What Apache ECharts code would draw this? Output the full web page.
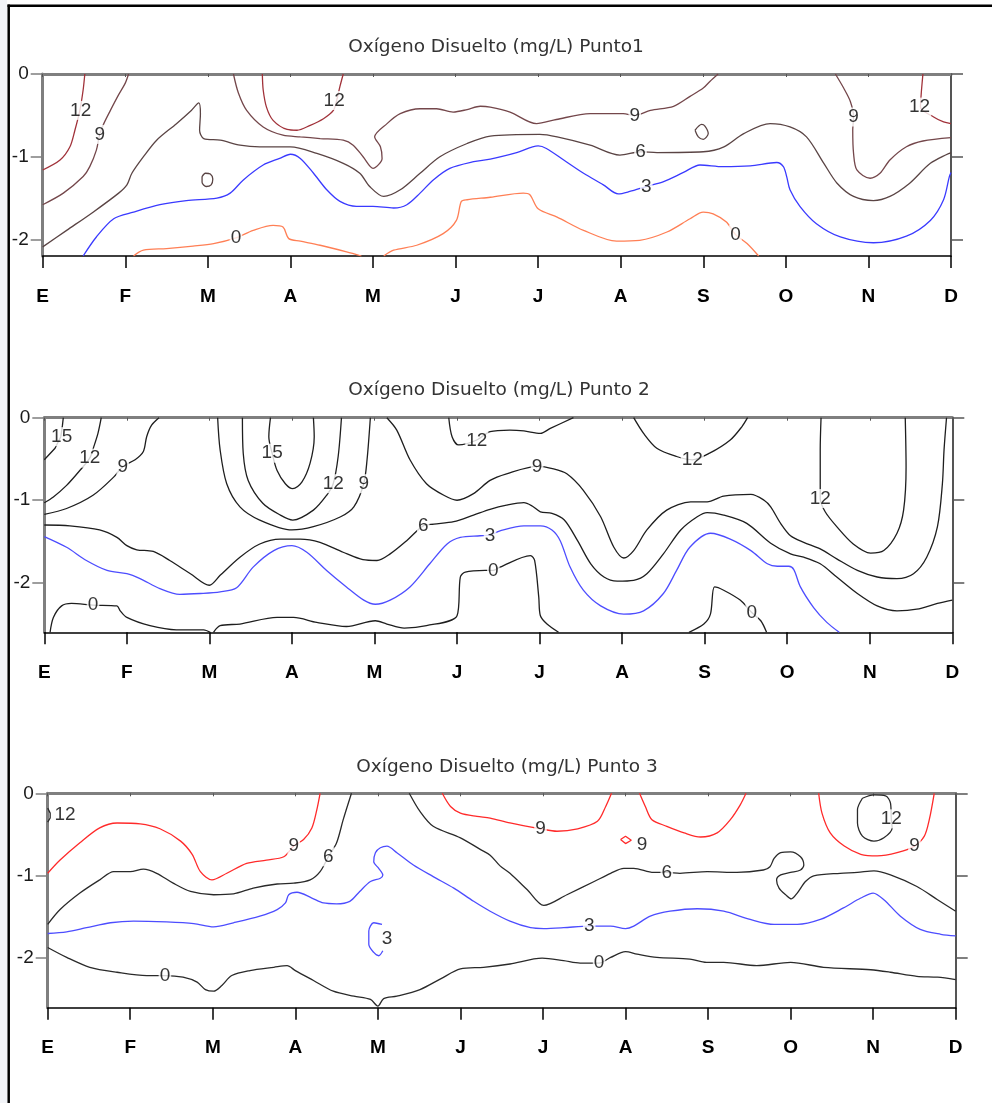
<!DOCTYPE html>
<html><head><meta charset="utf-8">
<script src="https://cdn.jsdelivr.net/npm/echarts@6/dist/echarts.min.js"></script>
<style>html,body{margin:0;padding:0;background:#fff}#c{width:992px;height:1103px}</style>
</head><body><div id="c"></div>
<script>
// ---------- data ----------
const MONTHS = ['E','F','M','A','M','J','J','A','S','O','N','D'];
const Y_TICKS = [0,-1,-2];
const DEPTH_MIN = [-2.2,-2.6,-2.6];
const TITLES = ['Oxígeno Disuelto (mg/L) Punto1','Oxígeno Disuelto (mg/L) Punto 2','Oxígeno Disuelto (mg/L) Punto 3'];

// Panel 1 contours [month index, depth m]
const p1_12a = [[0.51,0],[0.49,-0.19],[0.45,-0.44],[0.39,-0.68],[0.33,-0.88],[0.21,-1.04],[0,-1.16]];
const p1_12b = [[2.66,0],[2.67,-0.19],[2.71,-0.40],[2.79,-0.56],[2.96,-0.67],[3.08,-0.68],[3.24,-0.62],[3.40,-0.54],[3.52,-0.44],[3.56,-0.32],[3.60,-0.15],[3.64,0]];
const p1_12c = [[10.66,0],[10.64,-0.23],[10.63,-0.40],[10.79,-0.52],[10.91,-0.58],[11,-0.60]];
const p1_9a = [[1.04,0],[1.00,-0.11],[0.92,-0.25],[0.82,-0.44],[0.74,-0.60],[0.69,-0.73],[0.65,-0.92],[0.57,-1.12],[0.49,-1.24],[0.25,-1.44],[0,-1.58]];
const p1_9b = [[2.31,0],[2.37,-0.23],[2.47,-0.44],[2.67,-0.64],[2.91,-0.74],[3.12,-0.76],[3.36,-0.78],[3.64,-0.80],[3.76,-0.86],[3.88,-1.00],[4.00,-1.14],[4.11,-1.02],[4.09,-0.88],[4.02,-0.76],[4.17,-0.60],[4.33,-0.48],[4.57,-0.42],[4.77,-0.42],[4.97,-0.46],[5.14,-0.43],[5.30,-0.39],[5.42,-0.40],[5.66,-0.46],[5.98,-0.60],[6.22,-0.55],[6.63,-0.48],[7.03,-0.48],[7.17,-0.50],[7.36,-0.44],[7.64,-0.39],[7.84,-0.27],[8.00,-0.17],[8.08,-0.09],[8.18,0]];
const p1_9c = [[9.60,0],[9.70,-0.17],[9.78,-0.33],[9.82,-0.52],[9.81,-0.68],[9.82,-0.96],[9.86,-1.16],[10.02,-1.26],[10.14,-1.20],[10.26,-1.04],[10.46,-0.88],[10.66,-0.81],[11,-0.77]];
const p1_6 = [[0,-2.09],[0.29,-1.89],[0.61,-1.67],[0.92,-1.44],[1.02,-1.34],[1.08,-1.20],[1.22,-1.00],[1.38,-0.80],[1.62,-0.60],[1.80,-0.44],[1.89,-0.35],[1.91,-0.48],[1.90,-0.68],[1.95,-0.78],[2.15,-0.80],[2.39,-0.86],[2.63,-0.88],[3.00,-0.88],[3.32,-0.96],[3.64,-1.08],[3.84,-1.20],[3.96,-1.36],[4.13,-1.48],[4.33,-1.40],[4.57,-1.20],[4.81,-1.00],[5.14,-0.84],[5.42,-0.75],[6.02,-0.73],[6.23,-0.76],[6.63,-0.86],[6.99,-0.98],[7.24,-0.94],[7.44,-0.95],[8.00,-0.94],[8.25,-0.88],[8.49,-0.72],[8.81,-0.60],[9.05,-0.64],[9.25,-0.76],[9.46,-1.08],[9.62,-1.32],[9.82,-1.48],[10.06,-1.53],[10.26,-1.48],[10.50,-1.32],[10.75,-1.08],[11,-0.95]];
const p1_6loopA = [[7.90,-0.68],[7.98,-0.61],[8.02,-0.63],[8.06,-0.72],[8.00,-0.79],[7.94,-0.76],[7.90,-0.68]];
const p1_6loopB = [[1.93,-1.24],[1.97,-1.20],[2.03,-1.21],[2.06,-1.27],[2.04,-1.34],[1.98,-1.36],[1.93,-1.31],[1.93,-1.24]];
const p1_3 = [[0.49,-2.2],[0.65,-1.97],[0.86,-1.75],[1.10,-1.67],[1.42,-1.58],[1.74,-1.53],[2.11,-1.50],[2.27,-1.44],[2.43,-1.28],[2.67,-1.10],[2.87,-1.02],[3.00,-0.97],[3.12,-1.02],[3.28,-1.20],[3.44,-1.40],[3.60,-1.54],[3.80,-1.60],[4.00,-1.60],[4.25,-1.62],[4.41,-1.58],[4.57,-1.44],[4.73,-1.28],[4.93,-1.14],[5.22,-1.06],[5.42,-1.03],[5.74,-0.95],[6.00,-0.87],[6.10,-0.90],[6.31,-1.04],[6.55,-1.20],[6.79,-1.34],[6.97,-1.45],[7.11,-1.42],[7.31,-1.36],[7.52,-1.30],[7.76,-1.19],[7.96,-1.10],[8.24,-1.12],[8.57,-1.11],[8.89,-1.07],[8.97,-1.12],[9.01,-1.24],[9.05,-1.40],[9.17,-1.60],[9.37,-1.81],[9.66,-1.97],[10.06,-2.04],[10.46,-1.96],[10.75,-1.77],[10.91,-1.52],[10.98,-1.24],[11,-1.19]];
const p1_0a = [[1.10,-2.2],[1.22,-2.13],[1.50,-2.11],[1.82,-2.08],[2.07,-2.05],[2.34,-1.98],[2.55,-1.89],[2.79,-1.83],[2.91,-1.85],[2.98,-1.99],[3.12,-2.02],[3.36,-2.07],[3.68,-2.15],[3.86,-2.2]];
const p1_0b = [[4.13,-2.2],[4.25,-2.13],[4.53,-2.07],[4.85,-1.93],[5.01,-1.77],[5.07,-1.54],[5.14,-1.52],[5.42,-1.49],[5.82,-1.44],[5.90,-1.46],[6.00,-1.63],[6.23,-1.73],[6.55,-1.89],[6.95,-2.02],[7.23,-2.01],[7.56,-1.91],[7.84,-1.75],[8.00,-1.67],[8.12,-1.69],[8.28,-1.79],[8.39,-1.94],[8.53,-2.05],[8.67,-2.2]];
const p1_labels = [[0.46,-0.44,'12'],[3.53,-0.32,'12'],[10.62,-0.40,'12'],[0.69,-0.73,'9'],[7.17,-0.50,'9'],[9.82,-0.52,'9'],[7.24,-0.94,'6'],[7.31,-1.36,'3'],[2.34,-1.98,'0'],[8.39,-1.94,'0']];

// Panel 2 contours
const p2_15a = [[0.23,0],[0.22,-0.09],[0.20,-0.23],[0.13,-0.37],[0,-0.51]];
const p2_15b = [[2.74,0],[2.72,-0.23],[2.76,-0.43],[2.82,-0.64],[2.92,-0.80],[3.01,-0.86],[3.12,-0.78],[3.22,-0.55],[3.27,-0.23],[3.26,0]];
const p2_12a = [[0.69,0],[0.65,-0.19],[0.60,-0.35],[0.55,-0.49],[0.43,-0.64],[0.27,-0.82],[0.11,-0.96],[0,-1.03]];
const p2_12b = [[2.40,0],[2.41,-0.43],[2.47,-0.76],[2.65,-1.04],[2.86,-1.18],[3.01,-1.24],[3.26,-1.12],[3.42,-0.94],[3.50,-0.80],[3.56,-0.47],[3.60,0]];
const p2_12c = [[4.90,0],[4.94,-0.23],[5.02,-0.33],[5.24,-0.27],[5.40,-0.17],[5.64,-0.15],[5.81,-0.16],[6.01,-0.19],[6.13,-0.13],[6.41,0]];
const p2_12d = [[7.14,0],[7.26,-0.19],[7.42,-0.37],[7.66,-0.47],[7.85,-0.51],[8.06,-0.43],[8.31,-0.27],[8.45,-0.11],[8.52,0]];
const p2_12e = [[9.41,0],[9.40,-0.39],[9.40,-0.76],[9.40,-0.98],[9.46,-1.14],[9.60,-1.32],[9.80,-1.53],[10.01,-1.64],[10.17,-1.61],[10.33,-1.40],[10.41,-1.12],[10.44,-0.60],[10.43,0]];
const p2_9a = [[1.39,0],[1.30,-0.09],[1.24,-0.23],[1.20,-0.41],[1.10,-0.51],[0.95,-0.59],[0.84,-0.72],[0.59,-0.94],[0.27,-1.10],[0,-1.17]];
const p2_9b = [[2.10,0],[2.13,-0.39],[2.21,-0.80],[2.37,-1.08],[2.61,-1.24],[3.00,-1.36],[3.26,-1.32],[3.59,-1.20],[3.75,-1.08],[3.87,-0.80],[3.91,-0.51],[3.95,0]];
const p2_9c = [[4.15,0],[4.27,-0.15],[4.43,-0.51],[4.63,-0.80],[4.84,-0.94],[5.00,-1.00],[5.20,-0.92],[5.40,-0.76],[5.60,-0.68],[5.97,-0.59],[6.17,-0.62],[6.33,-0.68],[6.53,-0.88],[6.74,-1.20],[6.90,-1.57],[7.02,-1.70],[7.14,-1.61],[7.30,-1.36],[7.54,-1.12],[7.83,-1.02],[8.03,-1.02],[8.23,-0.95],[8.56,-0.93],[8.72,-1.00],[8.80,-1.08],[8.92,-1.28],[9.04,-1.43],[9.20,-1.51],[9.40,-1.59],[9.60,-1.71],[9.85,-1.85],[10.09,-1.93],[10.33,-1.95],[10.53,-1.89],[10.69,-1.69],[10.82,-1.32],[10.88,-0.80],[10.90,-0.39],[10.93,0]];
const p2_6 = [[0,-1.30],[0.31,-1.31],[0.67,-1.36],[0.88,-1.45],[1.00,-1.55],[1.12,-1.60],[1.32,-1.62],[1.52,-1.73],[1.77,-1.89],[2.00,-2.03],[2.13,-1.91],[2.37,-1.69],[2.61,-1.53],[2.86,-1.47],[3.10,-1.47],[3.34,-1.51],[3.62,-1.63],[3.86,-1.72],[4.03,-1.73],[4.19,-1.65],[4.39,-1.49],[4.59,-1.31],[4.72,-1.29],[4.96,-1.26],[5.20,-1.18],[5.40,-1.11],[5.60,-1.06],[5.81,-1.03],[5.91,-1.07],[6.01,-1.14],[6.15,-1.16],[6.30,-1.24],[6.46,-1.49],[6.62,-1.77],[6.78,-1.93],[6.94,-1.98],[7.14,-1.97],[7.30,-1.89],[7.50,-1.65],[7.71,-1.36],[7.91,-1.20],[8.03,-1.15],[8.23,-1.18],[8.51,-1.28],[8.80,-1.52],[9.04,-1.65],[9.20,-1.69],[9.40,-1.77],[9.60,-1.93],[9.85,-2.13],[10.09,-2.28],[10.33,-2.34],[10.57,-2.32],[10.82,-2.25],[11,-2.21]];
const p2_3 = [[0,-1.44],[0.27,-1.57],[0.51,-1.73],[0.76,-1.85],[1.00,-1.89],[1.16,-1.95],[1.40,-2.07],[1.64,-2.14],[1.89,-2.13],[2.13,-2.11],[2.33,-2.06],[2.53,-1.81],[2.78,-1.61],[3.00,-1.55],[3.18,-1.63],[3.42,-1.85],[3.66,-2.05],[3.87,-2.21],[4.01,-2.26],[4.19,-2.21],[4.43,-2.05],[4.67,-1.77],[4.88,-1.53],[5.04,-1.45],[5.28,-1.43],[5.40,-1.42],[5.52,-1.37],[5.81,-1.31],[6.01,-1.31],[6.15,-1.36],[6.25,-1.49],[6.37,-1.81],[6.53,-2.09],[6.74,-2.28],[7.02,-2.38],[7.26,-2.34],[7.50,-2.13],[7.66,-1.85],[7.82,-1.57],[8.07,-1.40],[8.31,-1.47],[8.56,-1.61],[8.76,-1.77],[8.88,-1.80],[9.02,-1.80],[9.08,-1.84],[9.16,-2.05],[9.32,-2.30],[9.48,-2.48],[9.63,-2.6]];
const p2_0a = [[0.07,-2.6],[0.11,-2.42],[0.21,-2.28],[0.33,-2.25],[0.59,-2.27],[0.88,-2.28],[0.92,-2.34],[1.00,-2.42],[1.28,-2.52],[1.60,-2.57],[1.93,-2.57],[2.01,-2.6]];
const p2_0b = [[2.05,-2.6],[2.13,-2.52],[2.37,-2.50],[2.82,-2.42],[3.02,-2.42],[3.30,-2.48],[3.66,-2.53],[4.01,-2.46],[4.15,-2.50],[4.36,-2.55],[4.63,-2.52],[5.00,-2.40],[5.04,-1.93],[5.10,-1.87],[5.34,-1.85],[5.44,-1.85],[5.52,-1.81],[5.89,-1.67],[5.94,-1.73],[5.99,-2.17],[6.01,-2.40],[6.09,-2.50],[6.23,-2.6]];
const p2_0c = [[7.81,-2.6],[7.99,-2.50],[8.07,-2.38],[8.12,-2.05],[8.23,-2.09],[8.43,-2.21],[8.57,-2.36],[8.68,-2.46],[8.75,-2.6]];
const p2_labels = [[0.21,-0.23,'15'],[2.76,-0.43,'15'],[0.55,-0.49,'12'],[3.50,-0.80,'12'],[5.24,-0.28,'12'],[7.85,-0.51,'12'],[9.40,-0.98,'12'],[0.95,-0.59,'9'],[3.87,-0.80,'9'],[5.97,-0.59,'9'],[4.59,-1.31,'6'],[5.40,-1.43,'3'],[0.59,-2.27,'0'],[5.44,-1.85,'0'],[8.57,-2.36,'0']];

// Panel 3 contours
const p3_12a = [[9.87,-0.06],[10.01,-0.02],[10.15,-0.03],[10.21,-0.12],[10.22,-0.31],[10.23,-0.42],[10.13,-0.54],[10.01,-0.58],[9.87,-0.52],[9.81,-0.36],[9.81,-0.20],[9.87,-0.06]];
const p3_12b = [[0,-0.18],[0.03,-0.24],[0.03,-0.30],[0,-0.35]];
const p3_9a = [[0,-0.97],[0.15,-0.81],[0.39,-0.60],[0.63,-0.42],[0.84,-0.36],[1.12,-0.37],[1.36,-0.43],[1.61,-0.58],[1.75,-0.74],[1.85,-0.95],[1.99,-1.05],[2.17,-0.97],[2.41,-0.85],[2.65,-0.81],[2.86,-0.77],[2.98,-0.64],[3.10,-0.56],[3.20,-0.42],[3.26,-0.20],[3.30,0]];
const p3_9b = [[4.78,0],[4.88,-0.16],[5.00,-0.24],[5.20,-0.28],[5.36,-0.30],[5.60,-0.36],[5.97,-0.43],[6.17,-0.46],[6.42,-0.43],[6.66,-0.34],[6.76,-0.16],[6.83,0]];
const p3_9c = [[7.17,0],[7.24,-0.16],[7.32,-0.32],[7.50,-0.40],[7.71,-0.48],[7.91,-0.53],[8.11,-0.48],[8.27,-0.32],[8.39,-0.14],[8.46,0]];
const p3_9d = [[6.94,-0.56],[7.00,-0.52],[7.07,-0.57],[7.00,-0.61],[6.94,-0.56]];
const p3_9e = [[9.34,0],[9.38,-0.24],[9.48,-0.48],[9.65,-0.64],[9.85,-0.74],[10.05,-0.76],[10.29,-0.72],[10.50,-0.64],[10.62,-0.52],[10.68,-0.32],[10.74,0]];
const p3_6a = [[0,-1.59],[0.15,-1.41],[0.39,-1.21],[0.63,-1.05],[0.80,-0.95],[1.00,-0.95],[1.16,-0.92],[1.32,-0.97],[1.52,-1.09],[1.73,-1.19],[2.01,-1.23],[2.25,-1.22],[2.49,-1.15],[2.78,-1.10],[2.98,-1.09],[3.18,-1.05],[3.30,-0.95],[3.40,-0.77],[3.50,-0.60],[3.58,-0.32],[3.68,0]];
const p3_6b = [[4.38,0],[4.51,-0.22],[4.67,-0.40],[5.00,-0.54],[5.24,-0.68],[5.36,-0.75],[5.48,-0.88],[5.60,-0.97],[5.81,-1.17],[6.01,-1.36],[6.29,-1.23],[6.62,-1.07],[6.82,-0.97],[6.98,-0.91],[7.10,-0.91],[7.34,-0.96],[7.50,-0.96],[7.66,-0.97],[7.99,-0.95],[8.35,-0.96],[8.67,-0.93],[8.75,-0.89],[8.80,-0.79],[8.88,-0.72],[9.00,-0.71],[9.12,-0.77],[9.16,-0.87],[9.12,-0.93],[9.00,-0.96],[8.88,-0.99],[8.83,-1.05],[8.86,-1.15],[8.94,-1.23],[9.01,-1.28],[9.08,-1.21],[9.18,-1.07],[9.28,-1.00],[9.60,-0.97],[9.81,-0.96],[10.01,-0.94],[10.21,-0.99],[10.53,-1.13],[10.78,-1.29],[11,-1.43]];
const p3_3a = [[0,-1.70],[0.23,-1.68],[0.47,-1.63],[0.76,-1.57],[1.04,-1.55],[1.44,-1.56],[1.77,-1.58],[2.01,-1.62],[2.25,-1.57],[2.57,-1.49],[2.78,-1.41],[2.88,-1.33],[2.92,-1.23],[3.02,-1.20],[3.20,-1.27],[3.34,-1.33],[3.50,-1.34],[3.66,-1.31],[3.78,-1.19],[3.91,-1.07],[4.03,-1.03],[4.06,-0.99],[4.01,-0.91],[3.95,-0.83],[3.97,-0.72],[4.03,-0.66],[4.11,-0.64],[4.23,-0.72],[4.43,-0.87],[4.67,-1.01],[4.92,-1.15],[5.16,-1.31],[5.36,-1.43],[5.60,-1.55],[5.85,-1.63],[6.01,-1.64],[6.25,-1.63],[6.56,-1.61],[6.82,-1.61],[7.00,-1.64],[7.10,-1.61],[7.30,-1.49],[7.54,-1.43],[7.87,-1.40],[8.19,-1.43],[8.51,-1.53],[8.80,-1.59],[9.08,-1.59],[9.36,-1.53],[9.64,-1.39],[9.85,-1.27],[10.00,-1.21],[10.13,-1.29],[10.33,-1.49],[10.57,-1.65],[10.82,-1.71],[11,-1.73]];
const p3_3b = [[4.05,-1.59],[3.95,-1.57],[3.89,-1.67],[3.89,-1.83],[3.95,-1.93],[4.01,-1.97],[4.06,-1.91]];
const p3_0 = [[0,-1.87],[0.23,-1.99],[0.51,-2.11],[0.84,-2.17],[1.20,-2.21],[1.42,-2.21],[1.64,-2.23],[1.81,-2.29],[1.91,-2.38],[2.01,-2.40],[2.11,-2.33],[2.23,-2.21],[2.45,-2.15],[2.74,-2.11],[2.90,-2.09],[3.00,-2.15],[3.22,-2.27],[3.46,-2.40],[3.71,-2.46],[3.91,-2.50],[4.00,-2.58],[4.07,-2.49],[4.23,-2.46],[4.51,-2.38],[4.76,-2.25],[5.00,-2.13],[5.28,-2.11],[5.60,-2.07],[5.99,-2.00],[6.25,-2.03],[6.45,-2.06],[6.68,-2.06],[6.82,-1.99],[7.00,-1.92],[7.14,-1.95],[7.38,-1.99],[7.78,-2.01],[7.98,-2.05],[8.19,-2.05],[8.59,-2.09],[9.00,-2.05],[9.40,-2.11],[9.97,-2.14],[10.21,-2.17],[10.53,-2.22],[10.78,-2.23],[11,-2.26]];
const p3_labels = [[0.21,-0.26,'12'],[10.22,-0.31,'12'],[2.98,-0.64,'9'],[5.97,-0.43,'9'],[7.20,-0.62,'9'],[10.50,-0.64,'9'],[3.40,-0.77,'6'],[7.50,-0.96,'6'],[6.56,-1.61,'3'],[4.11,-1.76,'3'],[1.42,-2.21,'0'],[6.68,-2.06,'0']];

// contour index: [level, points]
const P1_LINES = [['12',p1_12a],['12',p1_12b],['12',p1_12c],['9',p1_9a],['9',p1_9b],['9',p1_9c],['6',p1_6],['6',p1_6loopA],['6',p1_6loopB],['3',p1_3],['0',p1_0a],['0',p1_0b]];
const P2_LINES = [['15',p2_15a],['15',p2_15b],['12',p2_12a],['12',p2_12b],['12',p2_12c],['12',p2_12d],['12',p2_12e],['9',p2_9a],['9',p2_9b],['9',p2_9c],['6',p2_6],['3',p2_3],['0',p2_0a],['0',p2_0b],['0',p2_0c]];
const P3_LINES = [['12',p3_12a],['12',p3_12b],['9',p3_9a],['9',p3_9b],['9',p3_9c],['9',p3_9d],['9',p3_9e],['6',p3_6a],['6',p3_6b],['3',p3_3a],['3',p3_3b],['0',p3_0]];

// ---------- styles / layout ----------
const COLORS = [
  {'12':'#a1323a','9':'#74474b','6':'#5a4444','3':'#3a3aff','0':'#ff7f55'},
  {'15':'#1e1e1e','12':'#1e1e1e','9':'#1e1e1e','6':'#1e1e1e','3':'#4d4dff','0':'#1e1e1e'},
  {'12':'#2a2a2a','9':'#ff2a2a','6':'#2a2a2a','3':'#4d4dff','0':'#2a2a2a'}
];
const GRID_BOX = [
  {left:42.7, top:74, width:908.3, height:182},
  {left:44.3, top:417.7, width:908, height:214.6},
  {left:47.7, top:793.3, width:908, height:214.4}
];
const TITLE_POS = [{x:496, y:38},{x:499, y:381},{x:507, y:757.5}];

const chart = echarts.init(document.getElementById('c'), null, {renderer:'canvas'});
const grids = [], xAxes = [], yAxes = [], series = [], titles = [];
const allLines = [P1_LINES, P2_LINES, P3_LINES];
const allLabels = [p1_labels, p2_labels, p3_labels];

for (let g = 0; g < 3; g++) {
  grids.push(Object.assign({containLabel:false}, GRID_BOX[g]));
  titles.push({text:TITLES[g], left:TITLE_POS[g].x, top:TITLE_POS[g].y, textAlign:'center', padding:0,
    textStyle:{fontFamily:'DejaVu Sans', fontSize:18.5, fontWeight:'normal', color:'#333'}});
  xAxes.push({gridIndex:g, type:'value', position:'bottom', min:0, max:11, interval:1,
    axisLine:{show:true, onZero:false, lineStyle:{color:'#000', width:1.5}},
    axisTick:{show:true, inside:false, length:12, lineStyle:{color:'#000', width:1.5}},
    axisLabel:{show:true, margin:31, formatter:v => MONTHS[v] || '', fontFamily:'Liberation Sans', fontSize:19, fontWeight:'bold', color:'#000'},
    splitLine:{show:false}});
  xAxes.push({gridIndex:g, type:'value', position:'top', min:0, max:11, interval:1,
    axisLine:{show:true, onZero:false, lineStyle:{color:'#7f7f7f', width:3}},
    axisTick:{show:true, inside:true, length:3, lineStyle:{color:'#555', width:1}},
    axisLabel:{show:false}, splitLine:{show:false}});
  yAxes.push({gridIndex:g, type:'value', position:'left', min:DEPTH_MIN[g], max:0,
    axisLine:{show:true, onZero:false, lineStyle:{color:'#7f7f7f', width:3}},
    axisTick:{show:true, inside:false, length:12, customValues:Y_TICKS, lineStyle:{color:'#7f7f7f', width:1.5}},
    axisLabel:{show:true, customValues:Y_TICKS, margin:14, fontFamily:'Liberation Sans', fontSize:19, color:'#1a1a1a'},
    splitLine:{show:false}});
  yAxes.push({gridIndex:g, type:'value', position:'right', min:DEPTH_MIN[g], max:0,
    axisLine:{show:true, onZero:false, lineStyle:{color:'#555', width:2}},
    axisTick:{show:true, inside:false, length:12, customValues:Y_TICKS, lineStyle:{color:'#555', width:1.5}},
    axisLabel:{show:false}, splitLine:{show:false}});

  allLines[g].forEach(([lv, pts]) => {
    series.push({type:'line', xAxisIndex:2*g, yAxisIndex:2*g, data:pts, symbol:'none', showSymbol:false,
      smooth: pts.length > 5 ? 0.3 : 0, clip:true, silent:true, z:2,
      lineStyle:{color:COLORS[g][lv], width:1.3}});
  });
  series.push({type:'scatter', xAxisIndex:2*g, yAxisIndex:2*g, z:10, symbolSize:1, silent:true, clip:false,
    itemStyle:{color:'rgba(0,0,0,0)'},
    data: allLabels[g].map(l => ({value:[l[0], l[1]], name:l[2]})),
    label:{show:true, position:'inside', formatter:'{b}', fontFamily:'Liberation Sans', fontSize:19, color:'#000',
      backgroundColor:'#fff', padding:[0,1]}});
}

chart.setOption({
  animation:false,
  backgroundColor:'#fff',
  title:titles, grid:grids, xAxis:xAxes, yAxis:yAxes, series:series,
  graphic:[
    {type:'rect', shape:{x:0, y:0, width:7, height:1103}, style:{fill:'#f2f4f8'}, silent:true},
    {type:'line', shape:{x1:8.7, y1:4.5, x2:8.7, y2:1103}, style:{stroke:'#000', lineWidth:2.5}, silent:true},
    {type:'line', shape:{x1:7.5, y1:5.7, x2:992, y2:5.7}, style:{stroke:'#000', lineWidth:2.5}, silent:true}
  ]
});
</script></body></html>
